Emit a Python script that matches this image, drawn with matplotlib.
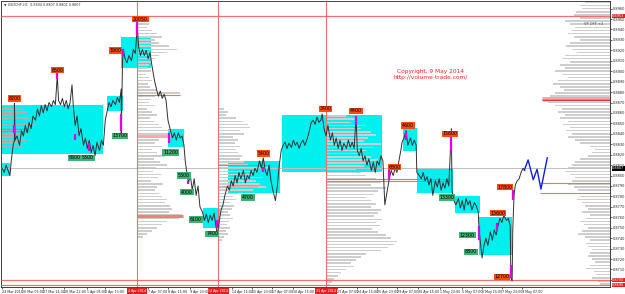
import matplotlib
matplotlib.use("Agg")
import matplotlib.pyplot as plt

# ---------------- data ----------------
# price path (bar index, price)
bars = [0,3,6,9,12,14,16,17,19,19,20,23,27,30,33,36,39,42,45,48,52,55,58,61,64,67,70,73,77,80,83,86,88,91,94,97,100,103,106,109,111,114,117,120,123,127,130,133,136,139,142,145,148,152,155,158,161,164,167,170,173,177,180,183,186,186,188,189,192,195,198,202,205,208,211,213,216,219,222,225,228,231,234,238,241,244,247,250,253,256,259,263,266,269,272,275,278,281,284,286,288,291,294,297,300,303,306,309,313,316,319,322,325,328,331,334,336,338,342,345,348,352,355,358,361,364,367,370,373,377,380,383,386,389,392,395,398,402,405,408,411,414,417,420,423,427,430,433,436,439,442,445,448,452,455,458,461,464,467,470,473,477,480,483,486,489,492,495,498,500,503,506,509,513,516,519,522,525,528,531,534,538,541,544,547,550,553,555,558,561,564,567,570,573,577,580,583,586,589,592,595,598,602,605,608,611,614,617,620,623,625,628,631,634,638,641,644,647,648,652,655,658,661,664,667,670,673,677,680,683,686,689,692,695,698,702,703,706,709,713,716,719,722,725,728,731,734,738,741,744,745,747,750,753,756,759,763,766,769,772,775,778,781,784,788,791,794,795,797,798,800,802,805,808,811,814,817]
prices = [0.8807,0.8803,0.8810,0.8805,0.8800,0.8814,0.8824,0.8829,0.8834,0.8869,0.8834,0.8838,0.8829,0.8843,0.8838,0.8848,0.8841,0.8851,0.8845,0.8857,0.8853,0.8864,0.8857,0.8867,0.8860,0.8868,0.8862,0.8870,0.8866,0.8872,0.8868,0.8896,0.8872,0.8868,0.8874,0.8866,0.8872,0.8864,0.8870,0.8887,0.8867,0.8848,0.8857,0.8838,0.8845,0.8829,0.8836,0.8826,0.8834,0.8822,0.8829,0.8819,0.8832,0.8824,0.8834,0.8829,0.8853,0.8862,0.8870,0.8866,0.8872,0.8868,0.8875,0.8870,0.8883,0.8840,0.8910,0.8921,0.8912,0.8908,0.8915,0.8910,0.8921,0.8917,0.8943,0.8924,0.8915,0.8921,0.8915,0.8920,0.8912,0.8918,0.8905,0.8891,0.8883,0.8876,0.8881,0.8874,0.8878,0.8872,0.8853,0.8843,0.8836,0.8841,0.8834,0.8841,0.8836,0.8838,0.8829,0.8814,0.8805,0.8793,0.8800,0.8786,0.8797,0.8781,0.8790,0.8770,0.8765,0.8757,0.8763,0.8755,0.8762,0.8757,0.8764,0.8752,0.8743,0.8752,0.8767,0.8772,0.8781,0.8790,0.8786,0.8795,0.8790,0.8800,0.8793,0.8803,0.8797,0.8805,0.8793,0.8800,0.8797,0.8805,0.8800,0.8807,0.8803,0.8814,0.8807,0.8817,0.8805,0.8800,0.8810,0.8795,0.8786,0.8776,0.8790,0.8810,0.8824,0.8829,0.8832,0.8826,0.8831,0.8827,0.8834,0.8829,0.8832,0.8826,0.8831,0.8834,0.8829,0.8836,0.8843,0.8851,0.8853,0.8849,0.8856,0.8851,0.8853,0.8859,0.8845,0.8838,0.8848,0.8834,0.8841,0.8829,0.8836,0.8826,0.8834,0.8824,0.8831,0.8826,0.8834,0.8827,0.8832,0.8826,0.8856,0.8824,0.8819,0.8826,0.8814,0.8819,0.8810,0.8816,0.8805,0.8813,0.8803,0.8814,0.8810,0.8819,0.8814,0.8772,0.8786,0.8797,0.8805,0.8800,0.8807,0.8803,0.8814,0.8824,0.8832,0.8836,0.8843,0.8829,0.8836,0.8829,0.8834,0.8829,0.8803,0.8800,0.8797,0.8803,0.8795,0.8799,0.8791,0.8797,0.8781,0.8795,0.8789,0.8797,0.8786,0.8793,0.8788,0.8797,0.8790,0.8845,0.8786,0.8776,0.8772,0.8778,0.8769,0.8776,0.8767,0.8778,0.8772,0.8776,0.8767,0.8774,0.8771,0.8765,0.8752,0.8738,0.8721,0.8733,0.8740,0.8733,0.8746,0.8738,0.8748,0.8743,0.8752,0.8759,0.8755,0.8762,0.8757,0.8759,0.8752,0.8702,0.8699,0.8748,0.8781,0.8791,0.8795,0.8797,0.8803,0.8807,0.8805]

# projected path (blue)
proj_bars = [816,822,830,836,842,852]
proj_prices = [0.8805,0.8815,0.8796,0.8806,0.8787,0.8817]

# value-area boxes: (bar_start, bar_end, price_low, price_high)
box_start = [0,0,164,186,259,313,353,438,627,648,708,745]
box_end = [12,158,188,233,284,341,434,594,648,705,747,797]
box_low = [0.8800,0.8821,0.8862,0.8903,0.8827,0.8750,0.8783,0.8803,0.8824,0.8783,0.8764,0.8724]
box_high = [0.8812,0.8868,0.8876,0.8933,0.8845,0.8769,0.8814,0.8858,0.8846,0.8807,0.8780,0.8760]

# high labels (orange) and low labels (green)
hi_text = ["8200","6500","1900","20050","5400","3400","4400","6800","4600","15600","13600","17800","12700"]
hi_bar = [19,86,177,216,408,505,553,613,634,700,775,786,781]
hi_price = [0.8874,0.8901,0.8920,0.8950,0.8821,0.8864,0.8862,0.8808,0.8848,0.8840,0.8764,0.8789,0.8703]
lo_text = ["8600","5300","13700","11200","5300","4000","6100","7400","4700","13300","12300","8800"]
lo_bar = [113,134,184,263,284,289,303,328,384,695,727,733]
lo_price = [0.8817,0.8817,0.8838,0.8822,0.8800,0.8784,0.8758,0.8744,0.8779,0.8779,0.8743,0.8727]

# magenta bars: (bar, low, high)
mag_bar = [19,86,113,136,186,189,211,261,291,336,408,553,605,631,702,745,773,795,798]
mag_low = [0.8841,0.8893,0.8834,0.8824,0.8843,0.8915,0.8934,0.8831,0.8792,0.8750,0.8803,0.8848,0.8797,0.8834,0.8824,0.8738,0.8748,0.8702,0.8777]
mag_high = [0.8848,0.8898,0.8840,0.8831,0.8859,0.8921,0.8948,0.8841,0.8795,0.8757,0.8808,0.8857,0.8805,0.8843,0.8837,0.8752,0.8755,0.8714,0.8786]

# session separators
sep_bars = [211,338,506]
sep_text = ["4 Apr 2014","14 Apr 2014","21 Apr 2014"]

# volume profiles (volume units)
prof_right = [25,30,28,34,36,30,45,40,35,38,42,36,30,40,44,38,33,45,48,40,50,45,55,48,42,52,57,50,46,55,60,68,62,55,48,52,45,50,42,47,40,44,38,42,35,30,20,15,18,22,30,35,38,42,45,40,35,38,42,36,32,35,30,33,28,25,22,28,20,24,30,26,22,28,32,25,20,24,22,18,20,22,18,15,20,24,16,14,18,12,10]
prof_a = [8,12,10,15,20,25,18,22,32,40,30,22,18,14,12,10,14,9,12,15,11,13,20,43,18,14,12,18,10,15,20,13,17,22,25,33,35,28,22,18,25,15,20,28,17,23,30,19,16,24,21,14,26,20,18,22,25,30,28,33,35,32,45,42,30,25,20,15,10,6]
prof_b = [6,10,8,18,25,30,32,22,26,15,20,17,22,18,20,24,22,26,30,52,40,35,45,38,42,48,35,20,15,18,12,16,14,10,12,15,11,9,12,8,10,6,4]
prof_c = [20,30,25,40,35,45,50,42,38,55,48,40,35,45,52,44,38,30,35,40,50,55,45,60,52,48,40,45,50,45,55,52,48,56,50,54,46,52,60,65,71,68,62,55,40,35,30,25,28,20,15,12,8,6,4]
prof_left = [30,20,25,15,28,10,33,30,18,22,12,25,15,20]

# axis labels
xtick_bars = [0,31,64,97,133,161,228,259,294,359,391,422,455,523,555,586,617,650,684,719,750,781,813]
xtick_text = ["24 Mar 2014","26 Mar 06:00","27 Mar 14:00","28 Mar 22:00","1 Apr 05:00","2 Apr 13:00",
              "7 Apr 07:00","8 Apr 15:00","9 Apr 23:00","14 Apr 15:00","15 Apr 23:00","17 Apr 07:00","18 Apr 15:00",
              "23 Apr 07:00","24 Apr 15:00","25 Apr 23:00","29 Apr 07:00","30 Apr 15:00","1 May 23:00","5 May 07:00",
              "6 May 15:00","7 May 23:00","9 May 07:00"]
price_ticks = [0.8700 + 0.0010 * i for i in range(27)]

# ---------------- figure ----------------
W, H = 625, 294
fig = plt.figure(figsize=(W / 100, H / 100), dpi=100)
fig.patch.set_facecolor("white")
ax = fig.add_axes([1 / W, 7 / H, 609 / W, 286 / H])
XMIN, XMAX = -2, 950
YMIN, YMAX = 0.86932, 0.89673
ax.set_xlim(XMIN, XMAX)
ax.set_ylim(YMIN, YMAX)

CYAN = "#00F0F0"
PROF = "#CDCDCD"
RED = "#F07070"
FS = 2.3

# boxes
for s, e, lo, hi in zip(box_start, box_end, box_low, box_high):
    ax.fill_between([s, e], lo, hi, color=CYAN, lw=0, zorder=2)

PSTEP = 0.0003
PSCALE = 1.5625
def profile(vals, top, anchor, direction, color=PROF):
    ps = [top - PSTEP * i for i in range(len(vals))]
    ws = [v * PSCALE for v in vals]
    if direction > 0:
        ax.barh(ps, ws, left=anchor, height=PSTEP * 0.5, color=color, lw=0, zorder=3)
    else:
        ax.barh(ps, ws, left=[anchor - w for w in ws], height=PSTEP * 0.5, color=color, lw=0, zorder=3)

profile(prof_right, 0.8966, XMAX, -1)
profile(prof_a, 0.8948, sep_bars[0], 1)
profile(prof_b, 0.8864, sep_bars[1], 1)
profile(prof_c, 0.8857, sep_bars[2], 1)
profile(prof_left, 0.8867, 0, 1, color="#B0B0B0")

# POC / level lines
ax.hlines([0.8953, 0.8700, 0.8695], XMIN, XMAX, color=RED, lw=0.9, zorder=4)
ax.hlines([0.8807], XMIN, XMAX, color="#C0C0C0", lw=0.7, zorder=4)
ax.hlines([0.8874, 0.8872], 844, XMAX, color=["#F4A0A0", "#E03030"], lw=[2.0, 1.0], zorder=4)
ax.hlines([0.8793, 0.8783], 840, XMAX, color=RED, lw=0.8, zorder=4)
ax.hlines([0.8877], 211, 278, color=RED, lw=0.8, zorder=4)
ax.hlines([0.8838], 211, 263, color="#F4A8A8", lw=2.0, zorder=4)
ax.hlines([0.8761], 211, 283, color="#F08080", lw=2.2, zorder=4)
ax.hlines([0.8845, 0.8843], 0, 44, color=RED, lw=0.8, zorder=4)
ax.hlines([0.8810], 338, 420, color=RED, lw=0.8, zorder=4)
ax.hlines([0.8789], 338, 400, color="#F4A8A8", lw=1.5, zorder=4)
ax.hlines([0.8797, 0.8795], 506, 700, color=RED, lw=0.8, zorder=4)
ax.vlines(sep_bars, YMIN, YMAX, color=RED, lw=0.8, zorder=4)

# price line
ax.plot(bars, prices, color="#303030", lw=0.7, zorder=6)
ax.plot(proj_bars, proj_prices, color="#1020E0", lw=1.0, zorder=6)

# magenta bars
ax.vlines(mag_bar, mag_low, mag_high, color="#E000E0", lw=1.6, zorder=7)

# labels
for t, b, p in zip(hi_text, hi_bar, hi_price):
    ax.text(b, p, t, fontsize=3.4, ha="center", va="center", color="black", zorder=8,
            bbox=dict(boxstyle="square,pad=0.15", fc="#FF4A10", ec="none"))
for t, b, p in zip(lo_text, lo_bar, lo_price):
    ax.text(b, p, t, fontsize=3.4, ha="center", va="center", color="black", zorder=8,
            bbox=dict(boxstyle="square,pad=0.15", fc="#3CB371", ec="none"))

# texts
ax.text(669, 0.8900, "Copyright, 9 May 2014", fontsize=4.2, color="#FF2020", ha="center", va="center", zorder=8)
ax.text(669, 0.8894, "http://volume-trade.com/", fontsize=4.2, color="#FF2020", ha="center", va="center", zorder=8)
ax.text(940, 0.8945, "VP OFF +2", fontsize=2.6, color="#505050", ha="right", va="center", zorder=8)
ax.text(3, 0.8964, "\u25BC USDCHF,H1  0.8804 0.8807 0.8802 0.8807", fontsize=2.4, color="#303030",
        ha="left", va="center", zorder=8)

# axes styling
for s in ax.spines.values():
    s.set_color("#404040")
    s.set_linewidth(0.7)
ax.yaxis.tick_right()
ax.set_yticks(price_ticks)
ax.set_yticklabels([f"{v:.4f}" for v in price_ticks], fontsize=2.5)
ax.set_xticks(xtick_bars)
ax.set_xticklabels(xtick_text, fontsize=FS, ha="left")
ax.tick_params(axis="both", length=1.5, width=0.5, pad=0.8, colors="#202020")

# right-axis price tags
for p, c in [(0.8953, "#E02020"), (0.8807, "black"), (0.8700, "#E02020"), (0.8695, "#E02020")]:
    ax.text(XMAX + 3, p, f"{p:.4f}", fontsize=2.5, color="white", ha="left", va="center", clip_on=False, zorder=9,
            bbox=dict(boxstyle="square,pad=0.1", fc=c, ec="none"))
for b, t in zip(sep_bars, sep_text):
    ax.text(b, YMIN - 0.00018, t, fontsize=FS, color="white", ha="center", va="top", clip_on=False, zorder=9,
            bbox=dict(boxstyle="square,pad=0.3", fc="#E02020", ec="none"))

fig.savefig("out.png", dpi=100)
